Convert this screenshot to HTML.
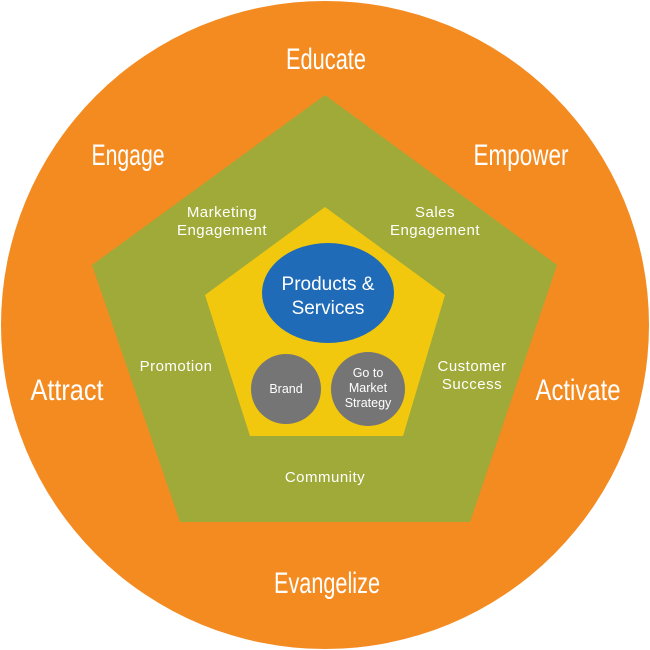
<!DOCTYPE html>
<html><head><style>
html,body{margin:0;padding:0;background:#fff;width:650px;height:650px;overflow:hidden}
svg{display:block}
.big{font-family:"Liberation Sans","DejaVu Sans",sans-serif;font-size:30px;fill:#fff;text-anchor:middle}
.mid{font-family:"Liberation Sans","DejaVu Sans",sans-serif;font-size:15px;fill:#fff;text-anchor:middle;letter-spacing:0.5px}
.sm{font-family:"Liberation Sans","DejaVu Sans",sans-serif;font-size:12.5px;fill:#fff;text-anchor:middle}
</style></head><body>
<svg width="650" height="650" viewBox="0 0 650 650">
<circle cx="325" cy="325" r="324" fill="#F38B21"/>
<polygon points="325,95 557,265 470,522 180,522 92,265" fill="#A0AA38"/>
<polygon points="325,207 445,295 403,436 250,436 205,295" fill="#F2C80F"/>
<ellipse cx="328" cy="293" rx="66" ry="50" fill="#1F6BB8"/>
<circle cx="286" cy="389" r="35" fill="#757575"/>
<circle cx="368" cy="389" r="37" fill="#757575"/>
<text class="big" x="326" y="69" textLength="80" lengthAdjust="spacingAndGlyphs">Educate</text>
<text class="big" x="128" y="165" textLength="73" lengthAdjust="spacingAndGlyphs">Engage</text>
<text class="big" x="521" y="165" textLength="95" lengthAdjust="spacingAndGlyphs">Empower</text>
<text class="big" x="67" y="400" textLength="73" lengthAdjust="spacingAndGlyphs">Attract</text>
<text class="big" x="578" y="400" textLength="85" lengthAdjust="spacingAndGlyphs">Activate</text>
<text class="big" x="327" y="593" textLength="106" lengthAdjust="spacingAndGlyphs">Evangelize</text>
<text class="mid" x="222" y="217">Marketing</text>
<text class="mid" x="222" y="235">Engagement</text>
<text class="mid" x="435" y="217">Sales</text>
<text class="mid" x="435" y="235">Engagement</text>
<text class="mid" x="176" y="371">Promotion</text>
<text class="mid" x="472" y="371">Customer</text>
<text class="mid" x="472" y="389">Success</text>
<text class="mid" x="325" y="482">Community</text>
<text x="328" y="290" style="font-family:'Liberation Sans',sans-serif;font-size:19px;fill:#fff;text-anchor:middle">Products &amp;</text>
<text x="328" y="314" style="font-family:'Liberation Sans',sans-serif;font-size:19px;fill:#fff;text-anchor:middle">Services</text>
<text class="sm" x="286" y="393">Brand</text>
<text class="sm" x="368" y="377">Go to</text>
<text class="sm" x="368" y="392">Market</text>
<text class="sm" x="368" y="407">Strategy</text>
</svg>
</body></html>
